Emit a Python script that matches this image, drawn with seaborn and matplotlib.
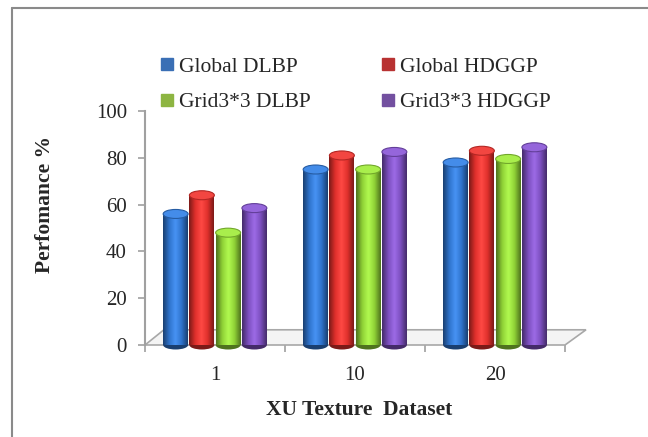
import numpy as np
import pandas as pd
import matplotlib
matplotlib.use("Agg")
import matplotlib.pyplot as plt
import seaborn as sns
from matplotlib.patches import Ellipse, Polygon
from matplotlib.colors import LinearSegmentedColormap
from matplotlib.lines import Line2D

# ========== Data ==========
categories = ["1", "10", "20"]
series = ["Global DLBP", "Global HDGGP", "Grid3*3 DLBP", "Grid3*3 HDGGP"]
global_dlbp = [56, 75, 78]
global_hdggp = [64, 81, 83]
grid_dlbp = [48, 75, 79.5]
grid_hdggp = [58.5, 82.5, 84.5]
yticks = [0, 20, 40, 60, 80, 100]

colors = ["#2f73cc", "#e0302c", "#8fd136", "#7c4fbf"]
legend_colors = ["#3a6fb5", "#b83232", "#8db542", "#7350a0"]

df = pd.DataFrame({
    "dataset": categories * 4,
    "method": np.repeat(series, len(categories)),
    "value": global_dlbp + global_hdggp + grid_dlbp + grid_hdggp,
})

# ========== Figure ==========
sns.set_style("white")
plt.rcParams["font.family"] = ["Liberation Serif", "DejaVu Serif"]

fig = plt.figure(figsize=(6.48, 4.37), dpi=100)
ax = fig.add_axes([145 / 648, 1 - 345 / 437, 420 / 648, 234 / 437])

sns.barplot(data=df, x="dataset", y="value", hue="method", order=categories,
            hue_order=series, palette=colors, width=0.75, gap=0.05,
            saturation=1, legend=False, ax=ax, zorder=3)

ax.set_xlim(-0.5, 2.5)
ax.set_ylim(0, 100)

# 3D floor (axes coordinates)
floor = Polygon([(0, 0), (1, 0), (1.05, 0.065), (0.045, 0.065)], closed=True,
                transform=ax.transAxes, clip_on=False, facecolor="#f4f4f4",
                edgecolor="#a8a8a8", lw=1.2, zorder=1)
ax.add_patch(floor)

# cylinder look: shaded bodies + elliptical caps
px_per_unit = ax.get_window_extent().height / 100
cap_h = 9 / px_per_unit
for bar in list(ax.patches):
    if not hasattr(bar, "get_width"):
        continue
    x0, w, h = bar.get_x(), bar.get_width(), bar.get_height()
    fc = np.array(bar.get_facecolor()[:3])
    dark = fc * 0.55
    light = np.clip(fc * 1.1 + 0.08, 0, 1)
    cmap = LinearSegmentedColormap.from_list("cyl", [dark, fc, light, fc, dark])
    grad = np.linspace(0, 1, 64).reshape(1, -1)
    im = ax.imshow(grad, cmap=cmap, aspect="auto", extent=(x0, x0 + w, 0, h),
                   zorder=3, interpolation="bicubic")
    im.set_clip_path(bar)
    bar.set_edgecolor("none")
    ax.add_patch(Ellipse((x0 + w / 2, h), w, cap_h, facecolor=light * 0.95,
                         edgecolor=fc * 0.8, lw=0.8, zorder=4))
    ax.add_patch(Ellipse((x0 + w / 2, 0), w, cap_h, facecolor=dark,
                         edgecolor="none", zorder=2.5, clip_on=False))

# axes styling
sns.despine(ax=ax, top=True, right=True, bottom=True)
ax.spines["left"].set_color("#a0a0a0")
ax.spines["left"].set_linewidth(1.5)
ax.set_yticks(yticks)
ax.tick_params(axis="y", length=5, width=1.2, color="#a0a0a0", labelsize=15, pad=8, left=True)
ax.set_xticks([0, 1, 2])
ax.set_xticklabels(categories)
ax.set_xticks([-0.5, 0.5, 1.5, 2.5], minor=True)
ax.tick_params(axis="x", which="major", length=0, labelsize=15, pad=15)
ax.tick_params(axis="x", which="minor", length=5, width=1.2, color="#a0a0a0", bottom=True)
ax.grid(False)

ax.set_ylabel("Perfomance %", fontsize=15.5, fontweight="bold")
ax.yaxis.set_label_coords(-0.215, 0.6)
ax.set_xlabel("XU Texture  Dataset", fontsize=15.5, fontweight="bold")
ax.xaxis.set_label_coords(0.51, -0.235)

# legend, filled row by row like the original
order = [0, 2, 1, 3]
handles = [Line2D([0], [0], marker="s", ls="none", markersize=9,
                  markerfacecolor=legend_colors[i], markeredgecolor=legend_colors[i])
           for i in order]
fig.legend(handles, [series[i] for i in order], loc="upper left",
           bbox_to_anchor=(152 / 648, 1 - 48 / 437),
           ncol=2, frameon=False, fontsize=15.5, handlelength=0.6, handletextpad=0.25,
           columnspacing=3.3, labelspacing=0.72, borderaxespad=0)

# chart area border (top and left visible)
fig.add_artist(Line2D([12 / 648, 12 / 648], [0, 1 - 8 / 437], color="#8a8a8a", lw=1.5))
fig.add_artist(Line2D([12 / 648, 1], [1 - 8 / 437, 1 - 8 / 437], color="#8a8a8a", lw=1.5))

fig.savefig("out.png", dpi=100)
